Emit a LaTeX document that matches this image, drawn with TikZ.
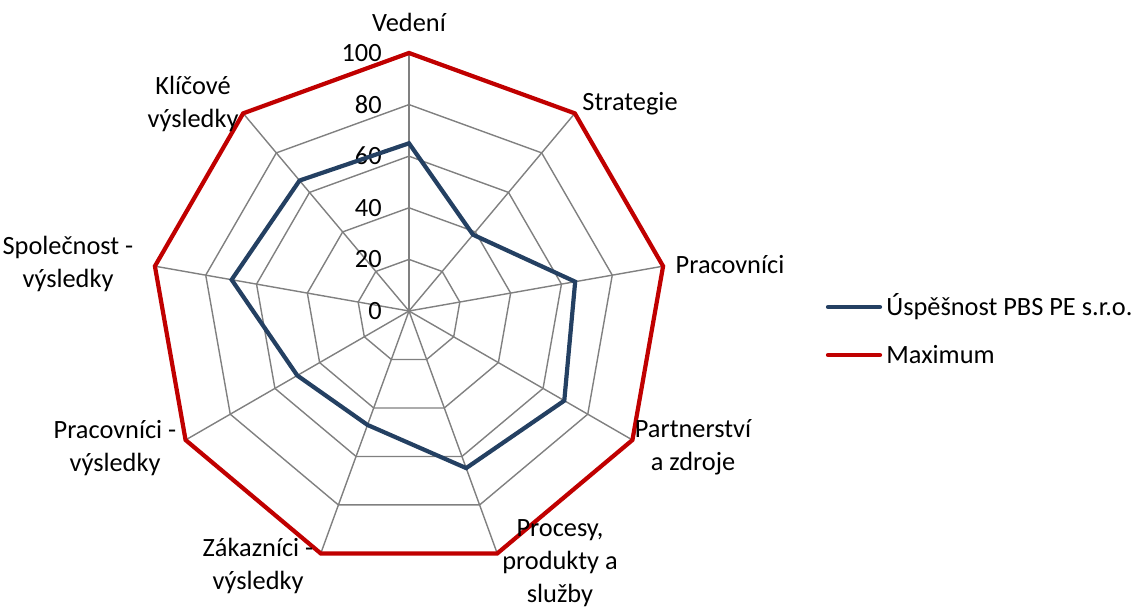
\documentclass[tikz,border=0pt]{standalone}
\usepackage{fontspec}
\setmainfont{Carlito}
\definecolor{scoreblue}{RGB}{36,64,98}
\definecolor{maxred}{RGB}{192,0,0}
\definecolor{gridgray}{RGB}{128,128,128}
\tikzset{
  gridline/.style={draw=gridgray, line width=0.8pt},
  maxline/.style={draw=maxred, line width=2.4pt},
  scoreline/.style={draw=scoreblue, line width=2.4pt},
  axislabel/.style={align=center, inner sep=0pt},
  ticklabel/.style={anchor=east, inner sep=0pt}
}
\begin{document}
\begin{tikzpicture}[x=0.02cm,y=0.02cm,font=\fontsize{15}{18.7}\selectfont]
                \useasboundingbox (-409,-296) rectangle (739,311);
                \coordinate (O) at (0,0);
                % rings
                \foreach \r in {1,...,5}
                    \draw[gridline] (90:\r*51.6) \foreach \k in {1,...,8} { -- (90-40*\k:\r*51.6) } -- cycle;
                % axes
                \foreach \k in {0,...,8}
                    \draw[gridline] (O) -- (90-40*\k:258) coordinate (a\k);
                % ticks
                \foreach \t [count=\i from 0] in {0,20,40,60,80,100}
                    \node[ticklabel] (t\i) at (-27,\i*51.6) {\t};
                % maximum
                \draw[maxline] (a0) -- (a1) -- (a2) -- (a3) -- (a4) -- (a5) -- (a6) -- (a7) -- (a8) -- cycle;
                % score
                \foreach \v [count=\k from 0] in {65,38.6,65.4,69.5,64.8,47,50,69.8,66}
                    \coordinate (p\k) at (90-40*\k:2.58*\v);
                \draw[scoreline] (p0) -- (p1) -- (p2) -- (p3) -- (p4) -- (p5) -- (p6) -- (p7) -- (p8) -- cycle;
                % axis labels
                \node[axislabel] (vedeni) at (0,289) {Vedení};
                \node[axislabel] (strategie) at (221,207) {Strategie};
                \node[axislabel] (pracovnici) at (321,46) {Pracovníci};
                \node[axislabel] (partnerstvi) at (284,-136) {Partnerství\\a zdroje};
                \node[axislabel] (procesy) at (151,-252) {Procesy,\\produkty a\\služby};
                \node[axislabel] (zakaznici) at (-151,-255) {Zákazníci -\\výsledky};
                \node[axislabel] (pracvysl) at (-294,-137) {Pracovníci -\\výsledky};
                \node[axislabel] (spolecnost) at (-341,47) {Společnost -\\výsledky};
                \node[axislabel] (klicove) at (-216,207) {Klíčové\\výsledky};
                % legend
                \coordinate (s1) at (419,4);
                \coordinate (s2) at (471,4);
                \coordinate (m1) at (419,-44);
                \coordinate (m2) at (471,-44);
                \draw[scoreline, line cap=round] (s1) -- (s2);
                \draw[maxline, line cap=round] (m1) -- (m2);
                \node[anchor=west, inner sep=0pt] (legscore) at (477,4) {Úspěšnost PBS PE s.r.o.};
                \node[anchor=west, inner sep=0pt] (legmax) at (477,-44) {Maximum};
            \end{tikzpicture}
\end{document}
